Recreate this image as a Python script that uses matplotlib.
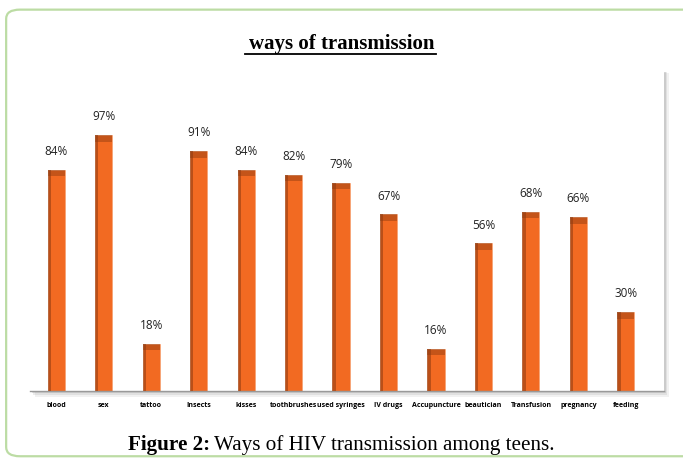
import matplotlib
matplotlib.use("Agg")
import matplotlib.pyplot as plt
from matplotlib.patches import FancyBboxPatch, Rectangle
from matplotlib.lines import Line2D

categories = ["blood", "sex", "tattoo", "Insects", "kisses", "toothbrushes", "used syringes",
              "IV drugs", "Accupuncture", "beautician", "Transfusion", "pregnancy", "feeding"]
values = [84, 97, 18, 91, 84, 82, 79, 67, 16, 56, 68, 66, 30]

fig = plt.figure(figsize=(6.83, 4.59), dpi=100)

# rounded green frame
frame = FancyBboxPatch((0.009, 0.006), 1.05, 0.973, boxstyle="round,pad=0,rounding_size=0.02",
                       transform=fig.transFigure, fill=False, edgecolor="#bcdca4", linewidth=1.6)
fig.add_artist(frame)

# panel shadow
ax_l, ax_b, ax_w, ax_h = 0.044, 0.148, 0.928, 0.695
for i, a in enumerate([0.10, 0.14, 0.20]):
    off = 0.004 * (3 - i)
    fig.add_artist(Rectangle((ax_l + off * 0.6, ax_b - off), ax_w, ax_h + off * 0.9,
                             transform=fig.transFigure, facecolor="#7a7a7a", alpha=a,
                             edgecolor="none", zorder=0))

ax = fig.add_axes([ax_l, ax_b, ax_w, ax_h])
ax.set_facecolor("white")
ax.set_zorder(1)

x = range(len(categories))
ax.bar(x, values, width=0.36, color="#f26a22", edgecolor="#f6a070", linewidth=0.5, zorder=2)
# darker left shading
ax.bar([i - 0.18 for i in x], values, width=0.07, align="edge", color="#8c3a10", alpha=0.55,
       linewidth=0, zorder=3)
ax.bar(x, [2.5] * len(values), bottom=[v - 2.5 for v in values], width=0.36, color="#8c3a10",
       alpha=0.45, linewidth=0, zorder=3)

for i, v in zip(x, values):
    ax.text(i, v + 4.5, f"{v}%", ha="center", va="bottom", fontsize=8.5,
            family="Open Sans", color="#222222")

ax.set_xlim(-0.55, 12.8)
ax.set_ylim(0, 121)
ax.set_xticks(list(x))
ax.set_xticklabels(categories, fontsize=5.0, fontweight="bold", family="Open Sans")
ax.tick_params(axis="x", length=0, pad=8)
ax.set_yticks([])
for s in ["top", "right", "left"]:
    ax.spines[s].set_visible(False)
ax.spines["bottom"].set_color("#999999")
ax.spines["bottom"].set_linewidth(1)

# title with underline
fig.text(0.5, 0.905, "ways of transmission", ha="center", va="center", fontsize=15,
         fontweight="bold", family="Liberation Serif")
fig.add_artist(Line2D([0.358, 0.639], [0.883, 0.883], transform=fig.transFigure,
                      color="black", linewidth=1.3))

# caption
cap1 = fig.text(0.187, 0.03, "Figure 2:", ha="left", va="center", fontsize=15.2,
                fontweight="bold", family="Liberation Serif")
fig.canvas.draw()
bb = cap1.get_window_extent()
x2 = (bb.x1 + 4) / fig.bbox.width
fig.text(x2, 0.03, "Ways of HIV transmission among teens.", ha="left", va="center",
         fontsize=15.2, family="Liberation Serif")

fig.savefig("out.png", dpi=100)
